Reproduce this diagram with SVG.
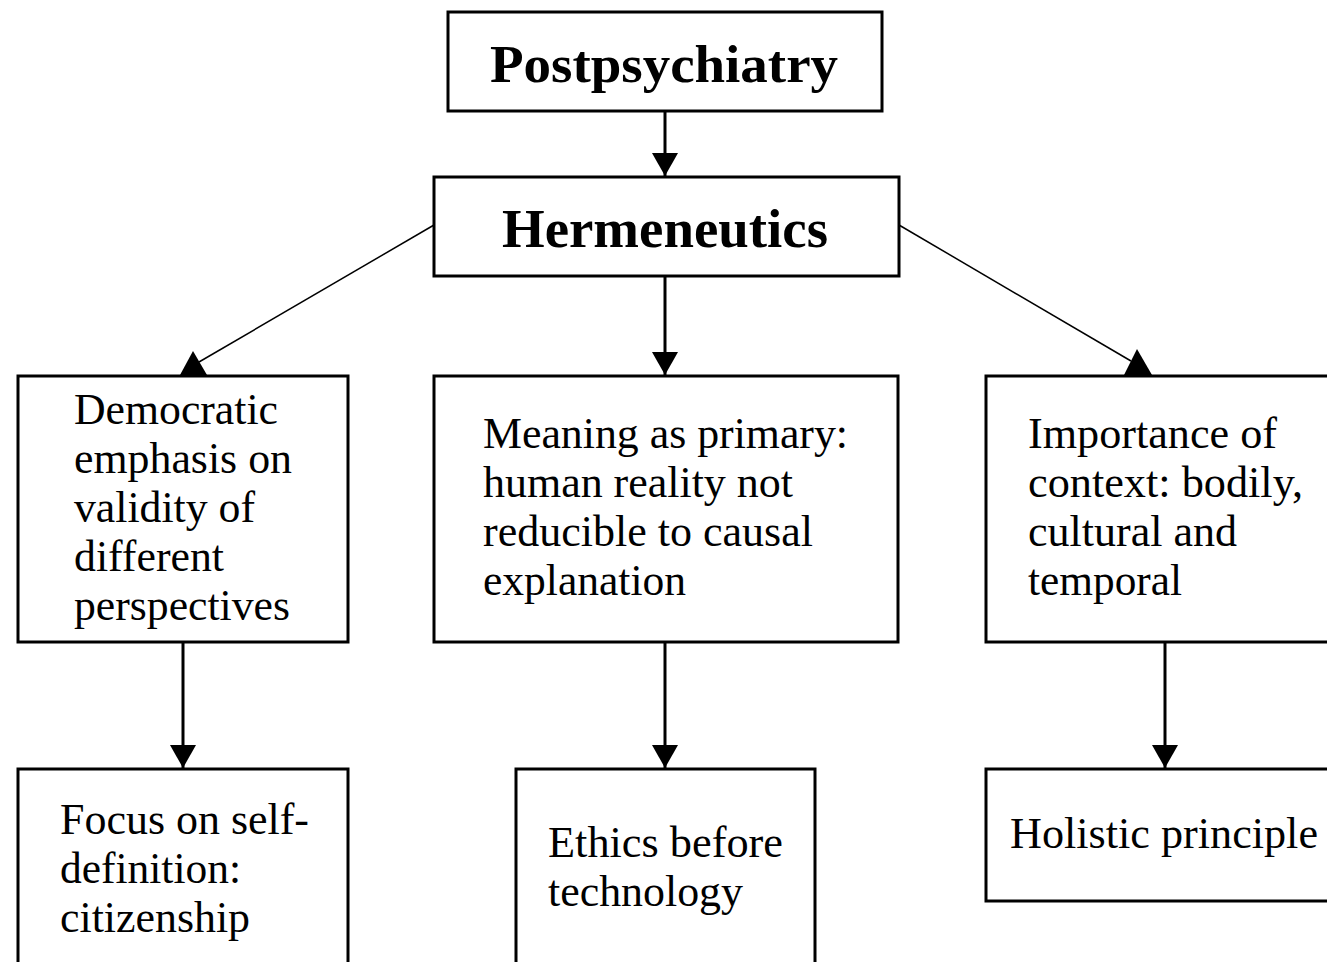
<svg xmlns="http://www.w3.org/2000/svg" width="1327" height="962" viewBox="0 0 1327 962">
<style>
.box{fill:#fff;stroke:#000;stroke-width:3}
.title{font-family:"Liberation Serif","Times New Roman",serif;font-weight:bold;fill:#000}
.t{font-family:"Liberation Serif","Times New Roman",serif;font-size:44px;fill:#000}
.v{stroke:#000;stroke-width:3;fill:none}
.d{stroke:#000;stroke-width:1.5;fill:none}
.head{fill:#000}
</style>
<defs>
<marker id="ah" markerUnits="userSpaceOnUse" markerWidth="24" markerHeight="28" refX="23" refY="13" orient="auto">
<path d="M0,0 L23,13 L0,26 z" fill="#000"/>
</marker>
</defs>
<rect width="1327" height="962" fill="#fff"/>
<g id="connectors">
<line class="v" x1="665" y1="111" x2="665" y2="176" marker-end="url(#ah)"/>
<line class="v" x1="665" y1="276" x2="665" y2="375" marker-end="url(#ah)"/>
<line class="d" x1="434" y1="225" x2="199" y2="362"/>
<path class="head" d="M180,375 L207,375 L193,351 z"/>
<line class="d" x1="899" y1="225" x2="1131" y2="361"/>
<path class="head" d="M1124,375 L1152,375 L1137,349 z"/>
<line class="v" x1="183" y1="642" x2="183" y2="768" marker-end="url(#ah)"/>
<line class="v" x1="665" y1="642" x2="665" y2="768" marker-end="url(#ah)"/>
<line class="v" x1="1165" y1="642" x2="1165" y2="768" marker-end="url(#ah)"/>
</g>
<g id="postpsychiatry">
<rect class="box" x="448" y="12" width="434" height="99"/>
<text class="title" x="490" y="82" font-size="53" textLength="348" lengthAdjust="spacingAndGlyphs">Postpsychiatry</text>
</g>
<g id="hermeneutics">
<rect class="box" x="434" y="177" width="465" height="99"/>
<text class="title" x="502" y="247" font-size="55" textLength="326" lengthAdjust="spacingAndGlyphs">Hermeneutics</text>
</g>
<g id="democratic">
<rect class="box" x="18" y="376" width="330" height="266"/>
<text class="t" x="74" y="424" textLength="204" lengthAdjust="spacingAndGlyphs">Democratic</text>
<text class="t" x="74" y="473" textLength="218" lengthAdjust="spacingAndGlyphs">emphasis on</text>
<text class="t" x="74" y="522" textLength="181" lengthAdjust="spacingAndGlyphs">validity of</text>
<text class="t" x="74" y="571" textLength="150" lengthAdjust="spacingAndGlyphs">different</text>
<text class="t" x="74" y="620" textLength="216" lengthAdjust="spacingAndGlyphs">perspectives</text>
</g>
<g id="meaning">
<rect class="box" x="434" y="376" width="464" height="266"/>
<text class="t" x="483" y="448" textLength="365" lengthAdjust="spacingAndGlyphs">Meaning as primary:</text>
<text class="t" x="483" y="497" textLength="310" lengthAdjust="spacingAndGlyphs">human reality not</text>
<text class="t" x="483" y="546" textLength="330" lengthAdjust="spacingAndGlyphs">reducible to causal</text>
<text class="t" x="483" y="595" textLength="203" lengthAdjust="spacingAndGlyphs">explanation</text>
</g>
<g id="context">
<rect class="box" x="986" y="376" width="360" height="266"/>
<text class="t" x="1028" y="448" textLength="249" lengthAdjust="spacingAndGlyphs">Importance of</text>
<text class="t" x="1028" y="497" textLength="275" lengthAdjust="spacingAndGlyphs">context: bodily,</text>
<text class="t" x="1028" y="546" textLength="209" lengthAdjust="spacingAndGlyphs">cultural and</text>
<text class="t" x="1028" y="595" textLength="154" lengthAdjust="spacingAndGlyphs">temporal</text>
</g>
<g id="selfdefinition">
<rect class="box" x="18" y="769" width="330" height="220"/>
<text class="t" x="60" y="834" textLength="249" lengthAdjust="spacingAndGlyphs">Focus on self-</text>
<text class="t" x="60" y="883" textLength="181" lengthAdjust="spacingAndGlyphs">definition:</text>
<text class="t" x="60" y="932" textLength="190" lengthAdjust="spacingAndGlyphs">citizenship</text>
</g>
<g id="ethics">
<rect class="box" x="516" y="769" width="299" height="220"/>
<text class="t" x="548" y="857" textLength="235" lengthAdjust="spacingAndGlyphs">Ethics before</text>
<text class="t" x="548" y="906" textLength="195" lengthAdjust="spacingAndGlyphs">technology</text>
</g>
<g id="holistic">
<rect class="box" x="986" y="769" width="360" height="132"/>
<text class="t" x="1010" y="848" textLength="308" lengthAdjust="spacingAndGlyphs">Holistic principle</text>
</g>
</svg>
